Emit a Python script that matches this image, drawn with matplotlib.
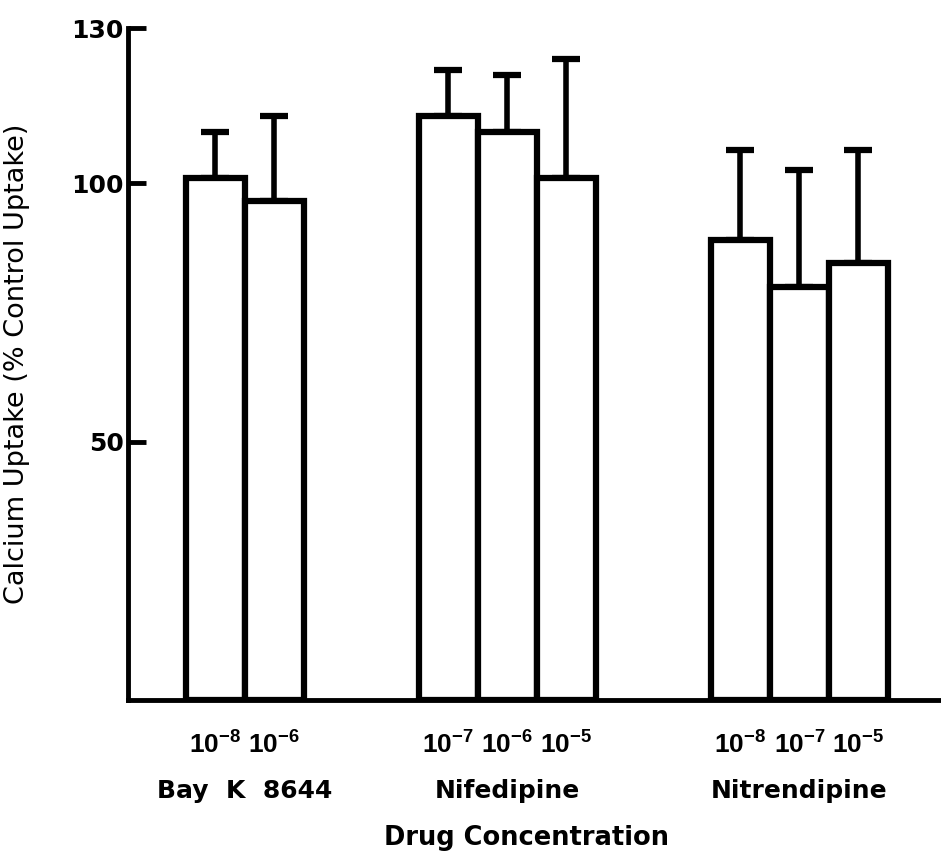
import numpy as np
import matplotlib.pyplot as plt

plt.rcParams['font.family'] = 'DejaVu Sans'
# superscript tick labels are set in a narrower face
plt.rcParams['mathtext.fontset'] = 'custom'
plt.rcParams['mathtext.rm'] = 'Liberation Sans:bold'
plt.rcParams['mathtext.bf'] = 'Liberation Sans:bold'

drugs = ['Bay K 8644', 'Nifedipine', 'Nitrendipine']
concs = [[-8, -6], [-7, -6, -5], [-8, -7, -5]]
means = [[101, 96.5], [113, 110, 101], [89, 80, 84.5]]
errs = [[9, 16.5], [9, 11, 23], [17.5, 22.5, 22]]

width = 1.0
gap = 1.95

fig = plt.figure(figsize=(9.41, 8.55), dpi=100)
ax = fig.add_axes([0.136, 0.181, 0.864, 0.786])

start = 0.0
tick_pos, tick_lab = [], []
for name, c, m, e in zip(drugs, concs, means, errs):
    x = start + np.arange(len(m)) * width
    ax.bar(x, m, width=width, align='edge', color='white',
           edgecolor='black', linewidth=4.5, zorder=2)
    ax.errorbar(x + width / 2, m, yerr=[np.zeros(len(e)), e], fmt='none',
                ecolor='black', elinewidth=4, capsize=10, capthick=4.5,
                zorder=1)
    for xi, ci in zip(x, c):
        tick_pos.append(xi + width / 2)
        tick_lab.append(r'$10^{%d}$' % ci)
    center = start + len(m) * width / 2
    ax.text(center, -0.135, name.replace(' ', '  '),
            transform=ax.get_xaxis_transform(),
            ha='center', va='center', fontsize=18, fontweight='bold')
    start += len(m) * width + gap

ax.set_xlim(-0.98, 12.8)
ax.set_ylim(0, 130)
ax.set_yticks([50, 100, 130])
ax.set_yticklabels(['50', '100', '130'], fontsize=18, fontweight='bold')
ax.tick_params(axis='y', direction='in', length=13, width=3.5, pad=3)

ax.set_xticks(tick_pos)
ax.set_xticklabels(tick_lab, fontsize=19)
ax.tick_params(axis='x', length=0, pad=22)

for s in ['top', 'right']:
    ax.spines[s].set_visible(False)
ax.spines['left'].set_linewidth(3.5)
ax.spines['bottom'].set_linewidth(3.5)

ax.set_ylabel('Calcium Uptake (% Control Uptake)', fontsize=19.5)
ax.yaxis.set_label_coords(-0.12, 0.5)
fig.text(0.56, 0.012, 'Drug Concentration', ha='center', va='baseline',
         fontsize=18.5, fontweight='bold')

fig.savefig('out.png', dpi=100)
